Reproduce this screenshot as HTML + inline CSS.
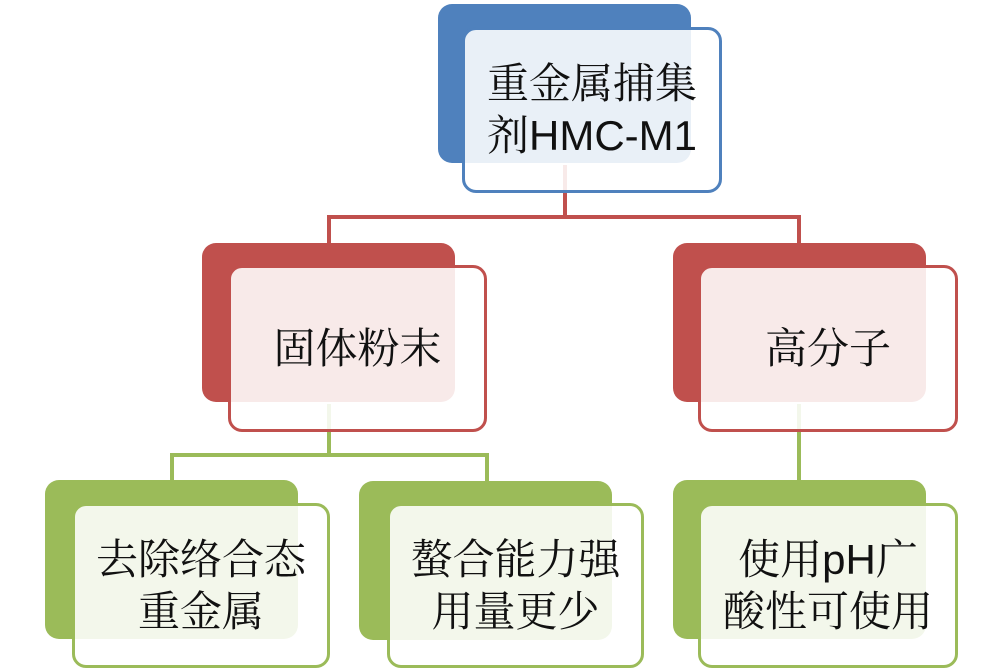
<!DOCTYPE html>
<html>
<head>
<meta charset="utf-8">
<style>
  html,body{margin:0;padding:0;background:#fff;}
  body{width:1000px;height:671px;position:relative;overflow:hidden;
       font-family:"Liberation Sans","Noto Serif CJK SC","Noto Serif CJK JP","Noto Serif CJK TC","Noto Sans CJK SC",serif;}
  .back{position:absolute;border-radius:14px;}
  .front{position:absolute;box-sizing:border-box;border:3px solid;border-radius:14px;
         display:flex;align-items:center;justify-content:center;text-align:center;
         font-size:42px;line-height:52px;color:#111;}
  .blue{background:#4F81BD;}
  .red{background:#C0504D;}
  .green{background:#9BBB59;}
  .fb{border-color:#4F81BD;background:rgba(255,255,255,0.88);}
  .fr{border-color:#C0504D;background:rgba(255,255,255,0.88);}
  .fg{border-color:#9BBB59;background:rgba(255,255,255,0.88);}
  svg{position:absolute;left:0;top:0;}
  .lat{font-family:"Liberation Sans",sans-serif;}
</style>
</head>
<body>
<!-- back boxes -->
<div class="back blue" style="left:438px;top:4px;width:253px;height:159px;"></div>
<div class="back red" style="left:202px;top:243px;width:253px;height:159px;"></div>
<div class="back red" style="left:673px;top:243px;width:253px;height:159px;"></div>
<div class="back green" style="left:45px;top:480px;width:253px;height:159px;"></div>
<div class="back green" style="left:359px;top:481px;width:253px;height:159px;"></div>
<div class="back green" style="left:673px;top:480px;width:253px;height:159px;"></div>

<!-- connectors -->
<svg width="1000" height="671" viewBox="0 0 1000 671">
  <g fill="none" stroke="#C0504D" stroke-width="4">
    <path d="M565 165 V217 M329 243 V217 H799 V243"/>
  </g>
  <g fill="none" stroke="#9BBB59" stroke-width="4">
    <path d="M329 404 V455 M172 480 V455 H487 V481"/>
    <path d="M799 404 V480"/>
  </g>
</svg>

<!-- front boxes -->
<div class="front fb" style="left:462px;top:27px;width:260px;height:166px;">
  <div>重金属捕集<br>剂<span class="lat">HMC-M1</span></div>
</div>
<div class="front fr" style="left:228px;top:265px;width:259px;height:167px;">
  <div>固体粉末</div>
</div>
<div class="front fr" style="left:698px;top:265px;width:260px;height:167px;">
  <div>高分子</div>
</div>
<div class="front fg" style="left:72px;top:503px;width:258px;height:165px;">
  <div>去除络合态<br>重金属</div>
</div>
<div class="front fg" style="left:387px;top:503px;width:257px;height:165px;">
  <div>螯合能力强<br>用量更少</div>
</div>
<div class="front fg" style="left:698px;top:503px;width:260px;height:165px;">
  <div>使用<span class="lat">pH</span>广<br>酸性可使用</div>
</div>
</body>
</html>
